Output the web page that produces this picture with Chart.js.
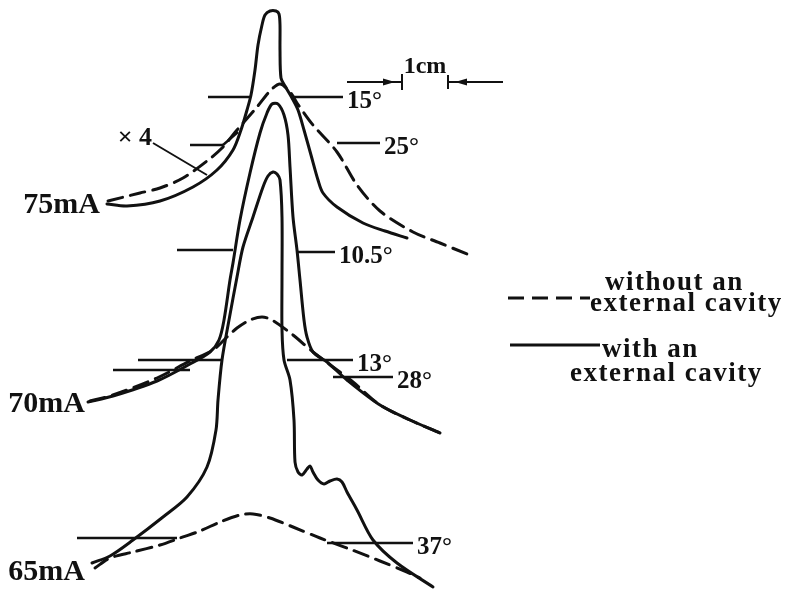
<!DOCTYPE html>
<html>
<head>
<meta charset="utf-8">
<title>Far field patterns</title>
<script src="https://cdn.jsdelivr.net/npm/chart.js@4.4.1/dist/chart.umd.min.js"></script>
<style>
    body { margin: 0; background: #fff; }
    #chartWrap { width: 790px; height: 590px; }
</style>
</head>
<body>
<div id="chartWrap"><canvas id="FarField" width="790" height="590"></canvas></div>
<script>
// x = position on the recorder paper, y = trace height (same units)
var Currents = ['75mA', '70mA', '65mA'];

// with an external cavity (solid)
var Solid75X = [10.7, 12.7, 16.0, 19.3, 21.7, 23.3, 24.1, 24.7, 25.1, 25.5, 25.8, 26.2, 26.5, 27.0, 27.6, 27.9, 28.0, 28.0, 28.1, 28.5, 29.2, 29.8, 30.4, 31.1, 31.8, 32.3, 33.7, 36.3, 38.5, 40.7];
var Solid75Y = [38.6, 38.4, 38.9, 40.3, 42.0, 44.0, 46.0, 48.0, 49.5, 52.0, 54.5, 56.5, 57.5, 57.9, 57.9, 57.6, 56.5, 54.0, 51.2, 50.4, 49.2, 48.0, 46.0, 43.5, 41.0, 39.7, 38.3, 36.7, 35.9, 35.2];

var Solid70X = [8.8, 11.3, 15.7, 19.0, 21.0, 21.9, 22.4, 23.0, 23.3, 24.0, 25.0, 26.0, 26.7, 27.2, 27.8, 28.4, 28.8, 29.0, 29.3, 29.7, 30.0, 30.4, 30.7, 31.3, 32.7, 34.7, 38.0, 41.0, 44.0];
var Solid70Y = [18.8, 19.4, 20.9, 22.6, 23.8, 25.0, 27.0, 31.0, 32.7, 37.0, 41.7, 45.7, 47.7, 48.6, 48.6, 47.5, 45.5, 42.3, 37.3, 34.0, 31.0, 27.0, 25.3, 23.8, 22.8, 21.0, 18.5, 17.0, 15.7];

var Solid65X = [9.2, 11.0, 13.3, 16.3, 18.7, 20.7, 21.6, 21.8, 22.2, 22.9, 23.7, 24.3, 25.3, 26.3, 26.8, 27.3, 27.7, 28.0, 28.2, 28.2, 28.2, 28.4, 29.0, 29.4, 29.5, 29.8, 30.2, 30.7, 31.0, 31.3, 31.8, 32.4, 33.0, 33.7, 34.2, 34.7, 35.7, 37.3, 39.7, 43.3];
var Solid65Y = [2.7, 3.4, 5.0, 7.3, 9.3, 12.3, 16.0, 19.0, 23.0, 27.0, 31.3, 34.3, 37.3, 40.3, 41.4, 41.8, 41.6, 41.0, 37.3, 31.3, 26.0, 23.0, 21.0, 17.0, 12.8, 11.8, 11.5, 12.1, 12.4, 11.8, 11.0, 10.6, 10.9, 11.1, 10.8, 9.8, 8.0, 5.0, 2.7, 0.3];

// without an external cavity (dashed)
var Dash75X = [10.8, 14.0, 16.0, 18.3, 20.7, 22.2, 23.7, 25.7, 27.0, 28.0, 29.0, 29.7, 31.3, 33.7, 35.7, 38.0, 41.3, 44.0, 46.7];
var Dash75Y = [38.9, 39.7, 40.2, 41.2, 42.9, 44.2, 46.0, 48.3, 49.9, 50.6, 49.8, 48.7, 46.5, 43.8, 40.5, 37.9, 35.8, 34.7, 33.6];

var Dash70X = [9.0, 11.3, 15.7, 19.0, 21.3, 22.7, 23.7, 25.0, 26.2, 27.2, 29.3, 31.3, 33.3, 35.3, 38.0, 41.0, 44.0];
var Dash70Y = [18.9, 19.5, 21.2, 22.9, 24.0, 25.3, 26.2, 27.0, 27.3, 27.0, 25.5, 23.8, 22.3, 20.8, 18.5, 17.0, 15.7];

var Dash65X = [9.5, 11.0, 13.3, 16.0, 18.0, 20.0, 22.0, 24.0, 25.3, 27.0, 29.3, 32.0, 34.7, 38.0, 40.7, 42.0];
var Dash65Y = [2.2, 3.2, 3.8, 4.5, 5.2, 5.9, 6.8, 7.5, 7.6, 7.2, 6.3, 5.2, 4.2, 2.9, 1.8, 1.2];

// beam width markers (left piece, right piece, label)
var MarkerLabels    = ['15°', '25°', '10.5°', '13°', '28°', '37°'];
var MarkerLeftY     = [49.3, 44.5, 34.0, 23.0, 22.0, 5.2];
var MarkerLeftFrom  = [20.8, 19.0, 17.7, 13.8, 11.3, 7.7];
var MarkerLeftTo    = [25.0, 22.3, 23.3, 22.3, 19.0, 17.7];
var MarkerRightY    = [49.3, 44.7, 33.8, 23.0, 21.3, 4.7];
var MarkerRightFrom = [29.3, 33.7, 29.7, 28.7, 33.3, 32.7];
var MarkerRightTo   = [34.3, 38.0, 33.5, 35.3, 39.3, 41.3];
var Hook25X = [22.3, 23.8];
var Hook25Y = [44.5, 45.8];

// label anchors for the currents (right edge, baseline)
var CurrentLabelX = [10.0, 8.5, 8.5];
var CurrentLabelY = [37.7, 17.8, 1.0];

// x4 note and its leader
var GainText = '× 4';
var LeaderX = [15.3, 20.7];
var LeaderY = [44.7, 41.5];

// 1 cm scale bar
var ScaleText = '1cm';
var ScaleBarY = 50.8;
var ScaleLeft = [34.7, 40.2];
var ScaleRight = [44.8, 50.3];

var Ink = '#111';
var SerifFont = '"Liberation Serif", "DejaVu Serif", serif';

function ToPoints(xs, ys)
{
    var pts = [];
    for (var i = 0; i < xs.length; i++) {
        pts.push({ x: xs[i], y: ys[i] });
    }
    return pts;
}

var Datasets = [];

function AddCurve(xs, ys, dashed)
{
    Datasets.push({
        data: ToPoints(xs, ys),
        showLine: true,
        borderColor: Ink,
        borderWidth: 3,
        borderDash: dashed ? [15, 8] : [],
        borderCapStyle: 'round',
        pointRadius: 0,
        tension: 0.3,
        fill: false
    });
}

function AddRule(xs, ys, width)
{
    Datasets.push({
        data: ToPoints(xs, ys),
        showLine: true,
        borderColor: Ink,
        borderWidth: width,
        pointRadius: 0,
        tension: 0,
        fill: false
    });
}

AddCurve(Solid75X, Solid75Y, false);
AddCurve(Solid70X, Solid70Y, false);
AddCurve(Solid65X, Solid65Y, false);
AddCurve(Dash75X, Dash75Y, true);
AddCurve(Dash70X, Dash70Y, true);
AddCurve(Dash65X, Dash65Y, true);

for (var m = 0; m < MarkerLabels.length; m++) {
    AddRule([MarkerLeftFrom[m], MarkerLeftTo[m]], [MarkerLeftY[m], MarkerLeftY[m]], 2.4);
    AddRule([MarkerRightFrom[m], MarkerRightTo[m]], [MarkerRightY[m], MarkerRightY[m]], 2.4);
}
AddRule(Hook25X, Hook25Y, 2.4);
AddRule(LeaderX, LeaderY, 2);

// texts, scale bar and legend
var Notes = {
    id: 'notes',
    afterDatasetsDraw: function(chart)
    {
        var ctx = chart.ctx;
        var sx = chart.scales.x, sy = chart.scales.y;
        function px(v) { return sx.getPixelForValue(v); }
        function py(v) { return sy.getPixelForValue(v); }

        ctx.save();
        ctx.fillStyle = Ink;
        ctx.strokeStyle = Ink;

        // marker labels
        ctx.font = 'bold 25px ' + SerifFont;
        ctx.textAlign = 'left';
        ctx.textBaseline = 'alphabetic';
        for (var i = 0; i < MarkerLabels.length; i++) {
            ctx.fillText(MarkerLabels[i], px(MarkerRightTo[i]) + 4, py(MarkerRightY[i]) + 11);
        }

        // currents
        ctx.font = 'bold 30px ' + SerifFont;
        ctx.textAlign = 'right';
        for (var c = 0; c < Currents.length; c++) {
            ctx.fillText(Currents[c], px(CurrentLabelX[c]), py(CurrentLabelY[c]));
        }

        // x4
        ctx.font = 'bold 26px ' + SerifFont;
        ctx.textAlign = 'right';
        ctx.fillText(GainText, px(LeaderX[0]) - 1, py(LeaderY[0]) + 2);

        // scale bar
        var y = py(ScaleBarY);
        ctx.lineWidth = 2;
        ctx.beginPath();
        ctx.moveTo(px(ScaleLeft[0]), y); ctx.lineTo(px(ScaleLeft[1]), y);
        ctx.moveTo(px(ScaleLeft[1]), y - 8); ctx.lineTo(px(ScaleLeft[1]), y + 8);
        ctx.moveTo(px(ScaleRight[0]), y); ctx.lineTo(px(ScaleRight[1]), y);
        ctx.moveTo(px(ScaleRight[0]), y - 7); ctx.lineTo(px(ScaleRight[0]), y + 7);
        ctx.stroke();
        var tipL = px(ScaleLeft[1]) - 7, tipR = px(ScaleRight[0]) + 7;
        ctx.beginPath();
        ctx.moveTo(tipL, y); ctx.lineTo(tipL - 12, y - 3.5); ctx.lineTo(tipL - 12, y + 3.5); ctx.closePath();
        ctx.moveTo(tipR, y); ctx.lineTo(tipR + 12, y - 3.5); ctx.lineTo(tipR + 12, y + 3.5); ctx.closePath();
        ctx.fill();
        ctx.font = 'bold 24px ' + SerifFont;
        ctx.textAlign = 'center';
        ctx.fillText(ScaleText, (px(ScaleLeft[1]) + px(ScaleRight[0])) / 2, y - 9);

        // legend
        ctx.lineWidth = 3;
        ctx.setLineDash([16, 8]);
        ctx.beginPath();
        ctx.moveTo(px(50.8), py(29.2)); ctx.lineTo(px(59.0), py(29.2));
        ctx.stroke();
        ctx.setLineDash([]);
        ctx.beginPath();
        ctx.moveTo(px(51.0), py(24.5)); ctx.lineTo(px(60.0), py(24.5));
        ctx.stroke();

        ctx.font = 'bold 27px ' + SerifFont;
        ctx.letterSpacing = '1.5px';
        ctx.textAlign = 'left';
        ctx.fillText('without an', px(60.5), py(30.0));
        ctx.fillText('external cavity', px(59.0), py(27.9));
        ctx.fillText('with an', px(60.2), py(23.3));
        ctx.fillText('external cavity', px(57.0), py(20.9));

        ctx.restore();
    }
};

var FarField = new Chart(document.getElementById('FarField').getContext('2d'), {
    type: 'scatter',
    data: { datasets: Datasets },
    options: {
        responsive: false,
        animation: false,
        events: [],
        layout: { padding: 0 },
        plugins: {
            legend: { display: false },
            tooltip: { enabled: false }
        },
        scales: {
            x: { type: 'linear', min: 0, max: 79, display: false },
            y: { type: 'linear', min: 0, max: 59, display: false }
        }
    },
    plugins: [Notes]
});
</script>
</body>
</html>
